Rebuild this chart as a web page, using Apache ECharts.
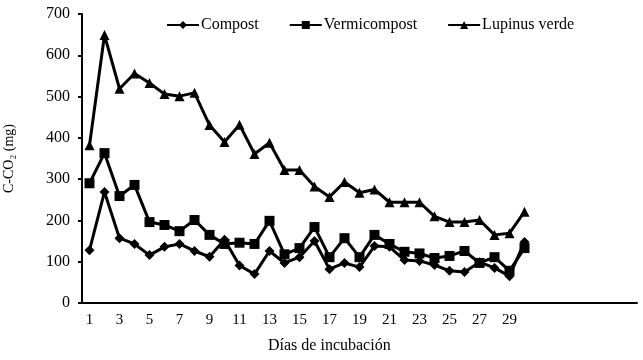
<!DOCTYPE html>
<html>
<head>
<meta charset="utf-8">
<script src="https://cdn.jsdelivr.net/npm/echarts@6/dist/echarts.min.js"></script>
<style>
  html, body { margin: 0; padding: 0; background: #fff; }
  #chart { width: 643px; height: 360px; }
</style>
</head>
<body>
<div id="chart"></div>
<script>
// días 1..30, el eje sigue vacío hasta 37
const days = ['1','2','3','4','5','6','7','8','9','10','11','12','13','14','15',
  '16','17','18','19','20','21','22','23','24','25','26','27','28','29','30',
  '31','32','33','34','35','36','37'];
const lastDay = 30;

const compost = [128, 269, 157, 143, 116, 136, 143, 126, 112, 153, 91, 70, 126, 97, 111,
  150, 82, 97, 87, 138, 136, 104, 102, 92, 78, 75, 99, 85, 65, 148];
const vermicompost = [290, 363, 259, 286, 196, 189, 174, 201, 165, 143, 146, 143, 199, 118, 133,
  184, 111, 157, 111, 165, 143, 124, 120, 109, 114, 126, 97, 111, 78, 133];
const lupinus = [382, 649, 519, 556, 533, 506, 501, 509, 431, 390, 432, 361, 388, 322, 322,
  282, 257, 293, 267, 275, 244, 244, 244, 210, 196, 196, 201, 165, 169, 221];

const yTicks = { min: 0, max: 700, step: 100 };

const font = '"Liberation Serif", "Times New Roman", serif';

const chart = echarts.init(document.getElementById('chart'));

function line(name, data, symbol, size) {
  return {
    name: name,
    type: 'line',
    data: data,
    symbol: symbol,
    symbolSize: size,
    showAllSymbol: true,
    lineStyle: { color: '#000', width: 3 },
    itemStyle: { color: '#000' },
    animation: false
  };
}

chart.setOption({
  animation: false,
  grid: { left: 82, right: 6, top: 14, bottom: 57, containLabel: false, outerBoundsMode: 'none' },
  legend: {
    left: 161,
    top: 12,
    itemWidth: 32,
    itemHeight: 10,
    itemGap: 30,
    textStyle: { fontFamily: font, fontSize: 16, color: '#000', padding: [0, 0, 0, -3] },
    data: ['Compost', 'Vermicompost', 'Lupinus verde']
  },
  xAxis: {
    type: 'category',
    data: days,
    boundaryGap: true,
    axisLine: { lineStyle: { color: '#000', width: 2 } },
    axisTick: { interval: 1, length: 5, lineStyle: { color: '#000', width: 2 } },
    axisLabel: {
      interval: 1,
      margin: 10,
      fontFamily: font,
      fontSize: 15,
      color: '#000',
      formatter: function (v) { return +v > lastDay ? '' : v; }
    }
  },
  yAxis: {
    type: 'value',
    min: yTicks.min,
    max: yTicks.max,
    interval: yTicks.step,
    name: 'C-CO\u2082 (mg)',
    nameLocation: 'middle',
    nameGap: 66,
    nameTextStyle: { fontFamily: font, fontSize: 14, color: '#000' },
    splitLine: { show: false },
    axisLine: { show: true, lineStyle: { color: '#000', width: 2 } },
    axisTick: { show: true, length: 4, lineStyle: { color: '#000', width: 2 } },
    axisLabel: { margin: 12, fontFamily: font, fontSize: 16, color: '#000' }
  },
  graphic: [{
    type: 'text',
    left: 268,
    top: 338,
    style: { text: 'Días de incubación', font: '16px ' + font, fill: '#000' }
  }],
  series: [
    line('Compost', compost, 'diamond', 10),
    line('Vermicompost', vermicompost, 'rect', 10),
    line('Lupinus verde', lupinus, 'triangle', 10)
  ]
});
</script>
</body>
</html>
